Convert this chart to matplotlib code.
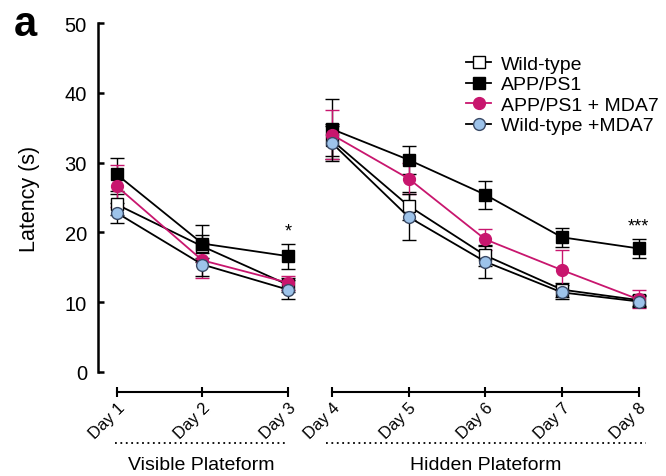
import matplotlib
matplotlib.use("Agg")
import matplotlib.pyplot as plt
import matplotlib.transforms as mtransforms

plt.rcParams['font.family'] = ['Liberation Sans', 'DejaVu Sans']

days_vis = [1, 2, 3]
days_hid = [4, 5, 6, 7, 8]
labels_vis = ["Day 1", "Day 2", "Day 3"]
labels_hid = ["Day 4", "Day 5", "Day 6", "Day 7", "Day 8"]

# mean latency (s), days 1-8
wt = [24.0, 18.0, 12.5, 33.2, 23.8, 16.7, 11.8, 10.3]
app = [28.3, 18.4, 16.6, 34.8, 30.4, 25.4, 19.3, 17.7]
app_mda7 = [26.6, 16.0, 12.8, 34.0, 27.7, 19.0, 14.6, 10.4]
wt_mda7 = [22.8, 15.4, 11.8, 32.8, 22.2, 15.8, 11.4, 10.1]

# error bars (SEM)
wt_err = [1.5, 1.6, 1.0, 2.3, 2.0, 1.5, 1.0, 0.8]
app_err = [2.3, 2.7, 1.8, 4.3, 2.0, 2.0, 1.4, 1.4]
app_mda7_err = [3.0, 2.5, 1.0, 3.5, 2.2, 1.5, 2.9, 1.3]
wt_mda7_err = [1.4, 1.6, 1.4, 2.5, 3.3, 2.3, 1.0, 0.8]

magenta = "#C8166E"
blue = "#9DC3EA"

series = [
    ("Wild-type", wt, wt_err, dict(marker="s", mfc="white", mec="black", color="black"), "black"),
    ("APP/PS1", app, app_err, dict(marker="s", mfc="black", mec="black", color="black"), "black"),
    ("APP/PS1 + MDA7", app_mda7, app_mda7_err, dict(marker="o", mfc=magenta, mec=magenta, color=magenta), magenta),
    ("Wild-type +MDA7", wt_mda7, wt_mda7_err, dict(marker="o", mfc=blue, mec="#3a4a66", color="black"), "black"),
]

W, H = 666, 477
fig = plt.figure(figsize=(W / 100, H / 100), dpi=100)
bottom = (H - 373) / H
height = (373 - 24) / H
ax1 = fig.add_axes([98 / W, bottom, (305 - 98) / W, height])
ax2 = fig.add_axes([316.6 / W, bottom, (654 - 316.6) / W, height])

handles = []
for ax, xs, sl in [(ax1, days_vis, slice(0, 3)), (ax2, days_hid, slice(3, 8))]:
    ax.spines["top"].set_visible(False)
    ax.spines["right"].set_visible(False)
    ax.spines["bottom"].set_position(("outward", 14.4))
    ax.spines["bottom"].set_bounds(xs[0], xs[-1])
    ax.spines["bottom"].set_linewidth(1.5)
    for name, y, e, st, ecol in series:
        cont = ax.errorbar(xs, y[sl], yerr=e[sl], ecolor=ecol, elinewidth=1.0, capsize=5,
                           capthick=1.0, lw=1.3, ms=8.5, mew=1.0, label=name, **st)
        if ax is ax2:
            handles.append(cont[0])
    ax.set_ylim(0, 50)
    ax.set_xticks(xs)
    ax.set_xticklabels(labels_vis if ax is ax1 else labels_hid, rotation=45,
                       ha="right", rotation_mode="anchor", fontsize=12)
    ax.tick_params(axis="x", direction="inout", length=7, width=1.5, pad=2)
    ax.patch.set_visible(False)

ax1.set_xlim(0.78, 3.2)
ax2.set_xlim(3.8, 8.2)

ax1.spines["left"].set_linewidth(1.8)
ax1.set_yticks([0, 10, 20, 30, 40, 50])
ax1.tick_params(axis="y", direction="in", length=4, width=1.8, labelsize=14.5, pad=8)
ax1.set_ylabel("Latency (s)", fontsize=15.5, labelpad=18)

ax2.spines["left"].set_visible(False)
ax2.set_yticks([])

# significance marks
ax1.text(3, app[2] + app_err[2] + 0.6, "*", ha="center", va="bottom", fontsize=13)
ax2.text(8, app[7] + app_err[7] + 0.6, "***", ha="center", va="bottom", fontsize=13)

# phase labels with dotted lines
for ax, x0, x1, txt in [(ax1, 0.98, 3.0, "Visible Plateform"), (ax2, 3.92, 8.1, "Hidden Plateform")]:
    tr = mtransforms.blended_transform_factory(ax.transData, ax.transAxes)
    ax.plot([x0, x1], [-0.203, -0.203], transform=tr, clip_on=False, color="black",
            lw=1.3, ls=(0, (1, 2)))
    ax.text((x0 + x1) / 2, -0.265, txt, transform=tr, ha="center", va="center", fontsize=14)

labels = [s[0] for s in series]
ax2.legend(handles, labels, loc="upper left", bbox_to_anchor=(0.42, 0.93), frameon=False,
           fontsize=14, handlelength=1.3, handletextpad=0.5, labelspacing=0.15,
           borderaxespad=0)

fig.text(14 / W, 1 - 25 / H, "a", fontsize=30, fontweight="bold", va="center", ha="left")

fig.savefig("out.png", dpi=100)
